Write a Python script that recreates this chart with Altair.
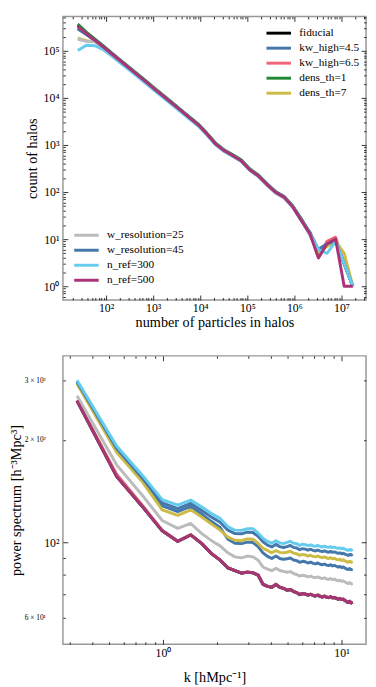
import altair as alt
import pandas as pd

SERIF = "Liberation Serif"

# ---------------- top panel: halo counts ----------------
N_PARTICLES = [25, 38, 58, 89, 135, 205, 313, 476, 724, 1100, 1680, 2560, 3890, 5920,
               9020, 13700, 20900, 31800, 48400, 73700, 112000, 171000, 260000, 396000,
               603000, 917000, 1400000, 2130000, 3240000, 4930000, 7500000, 11400000, 17400000]

FIDUCIAL_COUNTS = [355000, 240000, 170000, 120000, 85100, 60300, 42700, 30200, 21400, 15100,
                   10700, 7590, 5370, 3800, 2690, 1740, 1070, 767, 603, 468, 302, 224, 148,
                   100, 79, 50, 26, 13, 5, 8, 9, 3, 1]
KW45_COUNTS = [300000, 222000, 165000, 118000, 83700, 59300, 42000, 29700, 21000, 14800,
               10500, 7450, 5270, 3730, 2640, 1710, 1050, 755, 595, 462, 298, 221, 146,
               99, 78, 49, 26, 13, 5, 8, 9, 3, 1]
KW65_COUNTS = [335000, 235000, 168000, 119000, 84500, 60000, 42500, 30000, 21300, 15000,
               10650, 7560, 5350, 3780, 2680, 1730, 1065, 760, 600, 470, 300, 218, 140,
               98, 77, 48, 25, 14, 4, 9, 11, 3, 1]
DENS1_COUNTS = [368000, 250000, 177000, 125000, 88500, 62700, 44400, 31400, 22300, 15700,
                11100, 7900, 5590, 3950, 2800, 1810, 1110, 795, 625, 485, 312, 230, 152,
                103, 80, 51, 27, 13, 5, 8, 9, 3, 1]
DENS7_COUNTS = [186000, 164000, 158000, 118000, 84000, 59800, 42300, 29900, 21200, 15000,
                10600, 7520, 5320, 3770, 2670, 1720, 1060, 760, 598, 464, 300, 222, 147,
                99, 78, 50, 26, 13, 5, 7, 9, 5, 1]
WRES25_COUNTS = [176000, 160000, 155000, 116000, 83500, 59500, 42000, 29800, 21100, 14900,
                 10500, 7460, 5280, 3740, 2640, 1700, 1040, 740, 580, 450, 290, 212, 140,
                 95, 74, 47, 25, 12, 6, 8, 9, 3, 1]
WRES45_COUNTS = [290000, 225000, 168000, 119000, 84800, 60100, 42500, 30100, 21300, 15050,
                 10650, 7560, 5350, 3790, 2680, 1735, 1068, 765, 600, 466, 301, 223, 147,
                 100, 79, 50, 26, 14, 6, 8, 9, 3, 1]
NREF300_COUNTS = [101000, 131000, 128000, 104000, 76000, 54300, 38700, 27500, 19600, 13900,
                  9900, 7050, 5000, 3560, 2530, 1650, 1020, 735, 580, 450, 293, 216, 145,
                  97, 77, 49, 25, 13, 6, 5, 9, 3, 1]
NREF500_COUNTS = [330000, 232000, 167000, 119000, 84500, 60000, 42500, 30000, 21300, 15000,
                  10650, 7560, 5350, 3780, 2680, 1730, 1060, 760, 598, 462, 298, 220, 146,
                  99, 78, 49, 25, 13, 4, 8, 10, 1, 1]

# ---------------- bottom panel: power spectrum ----------------
K_VALUES = [0.33, 0.55, 0.77, 0.99, 1.21, 1.43, 1.65, 1.87, 2.09, 2.31,
            2.53, 2.75, 2.97, 3.19, 3.41, 3.63, 3.85, 4.07, 4.29, 4.51,
            4.73, 4.95, 5.17, 5.39, 5.61, 5.83, 6.05, 6.27, 6.49, 6.71,
            6.93, 7.15, 7.37, 7.59, 7.81, 8.03, 8.25, 8.47, 8.69, 8.91,
            9.13, 9.35, 9.57, 9.79, 10.01, 10.23, 10.45, 10.67, 10.89, 11.11,
            11.33, 11.55]

NREF500_PK = [261, 156, 127, 108, 100.5, 105, 99, 92.5, 88.5, 84,
              82.4, 81, 81.6, 81.2, 80, 75.1, 74.1, 73.6, 75.1, 73.6,
              73.1, 72.1, 72.5, 71.5, 71.0, 70.0, 70.5, 70.3, 69.8, 70.2,
              69.6, 69.4, 69.8, 69.2, 68.9, 69.3, 68.8, 68.6, 69.0, 68.5,
              68.7, 68.3, 67.9, 68.2, 67.7, 67.9, 67.3, 66.8, 66.4, 66.9,
              66.2, 66.5]
FIDUCIAL_PK = [261, 156.5, 127, 108, 100.6, 105, 99, 92.4, 88.5, 84,
               82.4, 81.1, 81.6, 81.2, 80, 75.2, 74.1, 73.6, 75.0, 73.6,
               73.1, 72.2, 72.5, 71.5, 71.0, 70.1, 70.5, 70.3, 69.8, 70.2,
               69.6, 69.4, 69.8, 69.2, 68.9, 69.3, 68.8, 68.6, 69.0, 68.5,
               68.7, 68.3, 67.9, 68.2, 67.7, 67.9, 67.3, 66.8, 66.4, 66.9,
               66.2, 66.5]
KW65_PK = [262, 158.5, 128, 108.5, 100.8, 105.3, 99.2, 92.6, 88.6, 84.1,
           82.5, 81.1, 81.7, 81.3, 80.1, 75.2, 74.2, 73.7, 75.2, 73.7,
           73.2, 72.2, 72.6, 71.6, 71.1, 70.1, 70.6, 70.4, 69.9, 70.3,
           69.7, 69.5, 69.9, 69.3, 69.0, 69.4, 68.9, 68.7, 69.1, 68.6,
           68.8, 68.4, 68.0, 68.3, 67.8, 68.0, 67.4, 66.9, 66.5, 67.0,
           66.3, 66.6]
DENS1_PK = [261, 156, 127, 108, 100.5, 105, 99, 92.5, 88.5, 84,
            82.4, 81, 81.6, 81.2, 80, 75.1, 74.1, 73.6, 75.1, 73.6,
            73.1, 72.1, 72.5, 71.5, 71.0, 70.0, 70.5, 70.3, 69.8, 70.2,
            69.6, 69.4, 69.8, 69.2, 68.9, 69.3, 68.8, 68.6, 69.0, 68.5,
            68.7, 68.3, 67.9, 68.2, 67.7, 67.9, 67.3, 66.8, 66.4, 66.9,
            66.2, 66.5]
WRES25_PK = [270, 169, 137, 115.8, 109.8, 113.5, 106, 101, 97.5, 93,
             90.5, 89.9, 91.0, 90.5, 88.5, 84.5, 83.3, 82.4, 83.8, 82.5,
             82.0, 81.5, 81.9, 80.8, 80.3, 79.4, 79.9, 79.6, 79.0, 79.4,
             78.8, 78.6, 79.0, 78.4, 78.1, 78.5, 77.9, 77.7, 78.1, 77.5,
             77.8, 77.3, 76.9, 77.2, 76.7, 76.9, 76.3, 75.9, 75.5, 76.0,
             75.3, 75.6]
NREF300_PK = [300, 192, 157, 133.5, 128.5, 133, 127, 121.5, 117.5, 111,
              108.5, 108.3, 109.5, 109.5, 106.5, 102.7, 100.5, 99.3, 101.0, 99.5,
              99.0, 99.8, 100.6, 99.3, 99.0, 97.8, 98.6, 98.3, 97.6, 98.2,
              97.5, 97.2, 97.8, 97.1, 96.8, 97.3, 96.7, 96.5, 97.0, 96.4,
              96.7, 96.2, 95.8, 96.2, 95.6, 96.0, 95.3, 94.9, 94.5, 95.2,
              94.6, 95.3]
WRES45_PK = [297, 189, 154, 130.5, 125.5, 130, 124, 118.5, 114.5, 108.5,
             106, 105.8, 107, 106.8, 104, 100.3, 98.0, 96.8, 98.5, 97.0,
             96.4, 97.0, 97.8, 96.5, 96.1, 95.0, 95.7, 95.4, 94.7, 95.3,
             94.6, 94.2, 94.8, 94.1, 93.8, 94.3, 93.7, 93.4, 93.9, 93.3,
             93.6, 93.1, 92.7, 93.0, 92.4, 92.8, 92.2, 91.8, 91.4, 92.0,
             91.6, 92.2]
DENS7_PK = [293, 184, 150, 124.5, 120, 124.5, 118.5, 113, 108.5, 103.5,
            101.3, 101, 102.2, 102, 99.3, 96, 94.5, 93, 94.5, 93.3,
            93.0, 93.4, 94.0, 92.8, 92.4, 91.4, 92.0, 91.7, 91.0, 91.5,
            90.8, 90.5, 91.0, 90.3, 90.0, 90.5, 89.8, 89.5, 90.0, 89.3,
            89.6, 89.0, 88.6, 89.0, 88.3, 88.7, 88.0, 87.6, 87.2, 87.8,
            87.2, 87.6]
KW45_PK = [297, 189, 153, 128, 123, 127.5, 121, 115, 110.5, 102,
           99.3, 99, 100, 99.7, 97, 93, 90.8, 89.5, 91.0, 89.5,
           89.0, 89.3, 89.8, 88.6, 88.2, 87.2, 87.8, 87.5, 86.8, 87.3,
           86.6, 86.3, 86.8, 86.1, 85.8, 86.2, 85.6, 85.3, 85.8, 85.1,
           85.4, 84.9, 84.4, 84.8, 84.1, 84.5, 83.8, 83.4, 83.0, 83.6,
           82.9, 83.3]

SERIES_A = ["fiducial", "kw_high=4.5", "kw_high=6.5", "dens_th=1", "dens_th=7"]
COLORS_A = ["#000000", "#4477AA", "#EE6677", "#228833", "#CCBB44"]
SERIES_B = ["w_resolution=25", "w_resolution=45", "n_ref=300", "n_ref=500"]
COLORS_B = ["#BBBBBB", "#4477AA", "#66CCEE", "#AA3377"]

HALO_TABLE = {
    "fiducial": FIDUCIAL_COUNTS, "kw_high=4.5": KW45_COUNTS, "kw_high=6.5": KW65_COUNTS,
    "dens_th=1": DENS1_COUNTS, "dens_th=7": DENS7_COUNTS, "w_resolution=25": WRES25_COUNTS,
    "w_resolution=45": WRES45_COUNTS, "n_ref=300": NREF300_COUNTS, "n_ref=500": NREF500_COUNTS,
}
PK_TABLE = {
    "fiducial": FIDUCIAL_PK, "kw_high=4.5": KW45_PK, "kw_high=6.5": KW65_PK,
    "dens_th=1": DENS1_PK, "dens_th=7": DENS7_PK, "w_resolution=25": WRES25_PK,
    "w_resolution=45": WRES45_PK, "n_ref=300": NREF300_PK, "n_ref=500": NREF500_PK,
}

# axis ticks / labels
TOP_X_MAJOR = [1e2, 1e3, 1e4, 1e5, 1e6, 1e7]
TOP_X_LABELS = ["10²", "10³", "10⁴", "10⁵", "10⁶", "10⁷"]
TOP_Y_MAJOR = [1, 10, 100, 1e3, 1e4, 1e5]
TOP_Y_LABELS = ["10⁰", "10¹", "10²", "10³", "10⁴", "10⁵"]
BOT_X_MAJOR = [1, 10]
BOT_X_LABELS = ["10⁰", "10¹"]
BOT_Y_MAJOR = [100]
BOT_Y_LABELS = ["10²"]
BOT_Y_MINOR = [60, 70, 80, 90, 200, 300]
BOT_Y_MINOR_LABELS = ["6 × 10¹", "", "", "", "2 × 10²", "3 × 10²"]

TOP_X_DOMAIN = [12.1, 3.32e7]
TOP_Y_DOMAIN = [0.51, 5.36e5]
BOT_X_DOMAIN = [0.2752, 13.72]
BOT_Y_DOMAIN = [50, 354]


def minor_ticks(lo, hi):
    out = []
    for e in range(-2, 9):
        for m in range(2, 10):
            v = m * 10.0 ** e
            if lo * 1.0001 < v < hi * 0.9999:
                out.append(v)
    return out


def label_expr(vals, labels):
    expr = "''"
    for v, lab in reversed(list(zip(vals, labels))):
        expr = f"abs(datum.value - {v}) < {abs(v) * 1e-6} ? '{lab}' : ({expr})"
    return expr


def axis(orient, values, size, expr=None, font_size=12, pad=3, title=None, title_pad=4):
    kw = dict(orient=orient, values=values, tickSize=size, offset=-size,
              tickColor="black", tickWidth=0.8, domain=False, grid=False,
              labels=expr is not None)
    if expr is not None:
        kw.update(labelExpr=expr, labelFont=SERIF, labelFontSize=font_size,
                  labelColor="black", labelPadding=pad, labelFlush=False,
                  labelOverlap=False)
    if title is not None:
        kw.update(title=title, titleFont=SERIF, titleFontSize=14.5,
                  titleFontWeight="normal", titleColor="black", titlePadding=title_pad)
    else:
        kw["title"] = None
    return alt.Axis(**kw)


def long_df(xs, table, names):
    rows = []
    for n in names:
        for x, y in zip(xs, table[n]):
            rows.append({"x": x, "y": y, "series": n})
    return pd.DataFrame(rows)


def panel(xs, table, xdom, ydom, axes, legA, legB, w, h):
    xs_scale = alt.Scale(type="log", domain=xdom, nice=False)
    ys_scale = alt.Scale(type="log", domain=ydom, nice=False)
    dfA = long_df(xs, table, SERIES_A)
    dfB = long_df(xs, table, SERIES_B)
    dot = pd.DataFrame({"x": [xs[len(xs) // 2]], "y": [table["fiducial"][len(xs) // 2]]})

    def colour(names, cols, leg):
        kw = dict(scale=alt.Scale(domain=names, range=cols), sort=names)
        if leg is None:
            kw["legend"] = None
        else:
            kw["legend"] = leg
        return alt.Color("series:N", **kw)

    lA = alt.Chart(dfA).mark_line(strokeWidth=3, clip=True, strokeJoin="round").encode(
        x=alt.X("x:Q", scale=xs_scale, axis=None),
        y=alt.Y("y:Q", scale=ys_scale, axis=None),
        color=colour(SERIES_A, COLORS_A, legA),
    )
    lB = alt.Chart(dfB).mark_line(strokeWidth=3, clip=True, strokeJoin="round").encode(
        x=alt.X("x:Q", scale=xs_scale, axis=axes[0]),
        y=alt.Y("y:Q", scale=ys_scale, axis=axes[1]),
        color=colour(SERIES_B, COLORS_B, legB),
    )
    extra = []
    for ax_x, ax_y in axes[2:]:
        extra.append(alt.Chart(dot).mark_point(opacity=0).encode(
            x=alt.X("x:Q", scale=xs_scale, axis=ax_x),
            y=alt.Y("y:Q", scale=ys_scale, axis=ax_y),
        ))
    return (alt.layer(lA, lB, *extra)
            .resolve_scale(color="independent")
            .resolve_axis(x="independent", y="independent")
            .resolve_legend(color="independent")
            .properties(width=w, height=h))


def legend(x, y):
    # a custom horizontal stroke 25 px long with a small nominal symbol size
    return alt.Legend(orient="none", legendX=x, legendY=y, title=None,
                      symbolType="M-2.5,0H2.5", symbolSize=100, symbolStrokeWidth=3,
                      labelFont=SERIF, labelFontSize=11.5, labelColor="black",
                      labelOffset=14.5, rowPadding=2.3, padding=0, labelLimit=300)


top_xmin = minor_ticks(*TOP_X_DOMAIN)
top_ymin = minor_ticks(*TOP_Y_DOMAIN)
bot_xmin = minor_ticks(*BOT_X_DOMAIN)

top_axes = [
    axis("bottom", TOP_X_MAJOR, 5, label_expr(TOP_X_MAJOR, TOP_X_LABELS), 12, 3,
         "number of particles in halos", 2),
    axis("left", TOP_Y_MAJOR, 5, label_expr(TOP_Y_MAJOR, TOP_Y_LABELS), 12, 4,
         "count of halos", 4),
    (axis("bottom", top_xmin, 2.5), axis("left", top_ymin, 2.5)),
    (axis("top", TOP_X_MAJOR, 5), axis("right", TOP_Y_MAJOR, 5)),
    (axis("top", top_xmin, 2.5), axis("right", top_ymin, 2.5)),
]
bot_axes = [
    axis("bottom", BOT_X_MAJOR, 5, label_expr(BOT_X_MAJOR, BOT_X_LABELS), 12, 3,
         "k [hMpc⁻¹]", 13),
    axis("left", BOT_Y_MAJOR, 5, label_expr(BOT_Y_MAJOR, BOT_Y_LABELS), 12, 4),
    (axis("bottom", bot_xmin, 2.5),
     axis("left", BOT_Y_MINOR, 2.5, label_expr(BOT_Y_MINOR, BOT_Y_MINOR_LABELS), 7.5, 18,
          "power spectrum [h⁻³Mpc³]", 0.5)),
    (axis("top", BOT_X_MAJOR, 5), axis("right", BOT_Y_MAJOR, 5)),
    (axis("top", bot_xmin, 2.5), axis("right", BOT_Y_MINOR, 2.5)),
]

top = panel(N_PARTICLES, HALO_TABLE, TOP_X_DOMAIN, TOP_Y_DOMAIN, top_axes,
            legend(213.5, 10.5), legend(17.5, 216.5), 309, 289)
bottom = panel(K_VALUES, PK_TABLE, BOT_X_DOMAIN, BOT_Y_DOMAIN, bot_axes,
               None, None, 309, 294)

chart = (alt.vconcat(top, bottom, spacing=24)
         .resolve_scale(color="independent", x="independent", y="independent")
         .resolve_legend(color="independent")
         .properties(padding={"left": 0, "top": 0, "right": 0, "bottom": 0},
                     background="white")
         .configure_view(stroke="#999999", strokeWidth=1.5))

chart.save("out.html", embed_options={"renderer": "svg", "actions": False})
